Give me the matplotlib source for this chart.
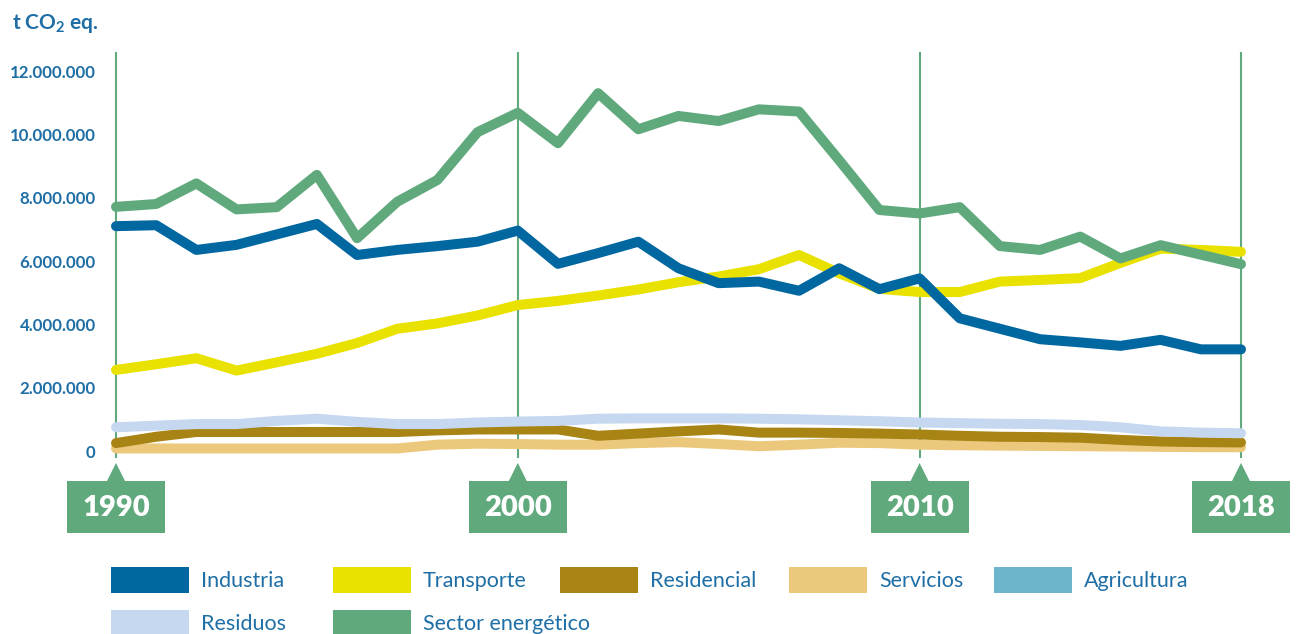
import matplotlib
matplotlib.use("Agg")
import matplotlib.pyplot as plt
from matplotlib.patches import Rectangle, Polygon
from matplotlib.transforms import IdentityTransform

plt.rcParams['font.family'] = ['Lato', 'DejaVu Sans']
plt.rcParams['mathtext.default'] = 'regular'

# ---------------- data ----------------
years = list(range(1990, 2019))

industria = [7.10, 7.13, 6.35, 6.51, 6.84, 7.17, 6.19, 6.35, 6.47, 6.61,
             6.96, 5.91, 6.25, 6.61, 5.77, 5.30, 5.35, 5.06, 5.77, 5.11,
             5.45, 4.19, 3.86, 3.53, 3.43, 3.32, 3.51, 3.21, 3.21]
transporte = [2.56, 2.74, 2.93, 2.54, 2.80, 3.07, 3.41, 3.86, 4.03, 4.28,
              4.61, 4.74, 4.91, 5.10, 5.33, 5.51, 5.74, 6.19, 5.61, 5.12,
              5.02, 5.02, 5.35, 5.40, 5.46, 5.94, 6.39, 6.35, 6.29]
residencial = [0.25, 0.45, 0.60, 0.60, 0.60, 0.60, 0.60, 0.60, 0.65, 0.68,
               0.68, 0.68, 0.48, 0.55, 0.62, 0.68, 0.58, 0.58, 0.57, 0.55,
               0.52, 0.48, 0.45, 0.44, 0.42, 0.35, 0.30, 0.28, 0.27]
servicios = [0.08, 0.08, 0.08, 0.08, 0.08, 0.08, 0.08, 0.08, 0.20, 0.23,
             0.22, 0.20, 0.20, 0.25, 0.28, 0.22, 0.15, 0.20, 0.26, 0.25,
             0.20, 0.18, 0.17, 0.16, 0.15, 0.14, 0.13, 0.12, 0.12]
agricultura = []  # listed in the legend, no visible line in the chart
residuos = [0.75, 0.80, 0.85, 0.85, 0.95, 1.02, 0.92, 0.85, 0.85, 0.90,
            0.93, 0.95, 1.02, 1.03, 1.03, 1.03, 1.02, 1.00, 0.97, 0.94,
            0.90, 0.88, 0.86, 0.85, 0.82, 0.75, 0.62, 0.58, 0.56]
sector_energetico = [7.71, 7.80, 8.45, 7.63, 7.70, 8.72, 6.72, 7.87, 8.56, 10.07,
                     10.68, 9.72, 11.30, 10.16, 10.58, 10.42, 10.79, 10.72, 9.18, 7.61,
                     7.50, 7.70, 6.47, 6.35, 6.77, 6.08, 6.50, 6.20, 5.90]

series_names = ["Industria", "Transporte", "Residencial", "Servicios",
                "Agricultura", "Residuos", "Sector energético"]
series_values = [industria, transporte, residencial, servicios,
                 agricultura, residuos, sector_energetico]
marked_years = [1990, 2000, 2010, 2018]
y_ticks = [0, 2, 4, 6, 8, 10, 12]  # millions

# ---------------- style ----------------
colors = {
    "Industria": "#0067a0",
    "Transporte": "#e9e100",
    "Residencial": "#a88414",
    "Servicios": "#ecc87d",
    "Agricultura": "#6cb5cc",
    "Residuos": "#c6d7f0",
    "Sector energético": "#5fa97d",
}
zorders = {"Servicios": 2, "Residencial": 3, "Residuos": 4, "Agricultura": 4,
           "Transporte": 5, "Sector energético": 6, "Industria": 7}
text_blue = "#1f6fa6"
green = "#5fa97d"

W, H = 1298, 634
fig = plt.figure(figsize=(W / 100, H / 100), dpi=100)
ax_left, ax_right, ax_top, ax_bot = 100, 1262, 52, 458
ax = fig.add_axes([ax_left / W, 1 - ax_bot / H, (ax_right - ax_left) / W, (ax_bot - ax_top) / H])

px_per_year = (1241 - 116) / 28
ax.set_xlim(1990 - (116 - ax_left) / px_per_year, 2018 + (ax_right - 1241) / px_per_year)
px_per_m = 380 / 12
ax.set_ylim(-(ax_bot - 451) / px_per_m, (451 - ax_top) / px_per_m)

for yr in marked_years:
    ax.axvline(yr, color=green, lw=1.5, zorder=1)

for name, vals in zip(series_names, series_values):
    if len(vals) == 0:
        continue
    ax.plot(years[:len(vals)], vals, color=colors[name], lw=7.2,
            solid_capstyle='round', solid_joinstyle='round', zorder=zorders[name])

for s in ax.spines.values():
    s.set_visible(False)
ax.set_xticks([])
ax.set_yticks(y_ticks)
ax.set_yticklabels(["0" if v == 0 else f"{int(v * 1e6):,}".replace(",", ".") for v in y_ticks],
                   fontsize=12.2, fontweight='bold', color=text_blue)
ax.tick_params(axis='y', length=0, pad=3)

# title
fig.text(12 / W, 1 - 29 / H, r't CO$_{2}$ eq.', fontsize=15, fontweight='bold',
         color=text_blue, ha='left', va='baseline')

# year markers (boxes with pointer)
fig.canvas.draw()
idt = IdentityTransform()
for yr in marked_years:
    cx = ax.transData.transform((yr, 0))[0]
    top, bot = H - 481, H - 533
    fig.patches.append(Rectangle((cx - 49, bot), 98, top - bot, transform=idt,
                                 facecolor=green, edgecolor='none', figure=fig))
    fig.patches.append(Polygon([(cx - 9, top), (cx + 9, top), (cx, H - 463)], closed=True,
                               transform=idt, facecolor=green, edgecolor='none', figure=fig))
    fig.text(cx / W, (H - 508) / H, str(yr), fontsize=21, fontweight='heavy', color='white',
             ha='center', va='center')

# legend (row-major grid)
col_x = [111, 333, 560, 789, 994]
row_y = [580, 623]
for i, name in enumerate(series_names):
    r, c = divmod(i, 5)
    x0, yc = col_x[c], H - row_y[r]
    fig.patches.append(Rectangle((x0, yc - 13), 78, 26, transform=idt,
                                 facecolor=colors[name], edgecolor='none', figure=fig))
    fig.text((x0 + 90) / W, yc / H - 0.002, name, fontsize=15.5, color=text_blue,
             ha='left', va='center')

fig.savefig("out.png", dpi=100)
